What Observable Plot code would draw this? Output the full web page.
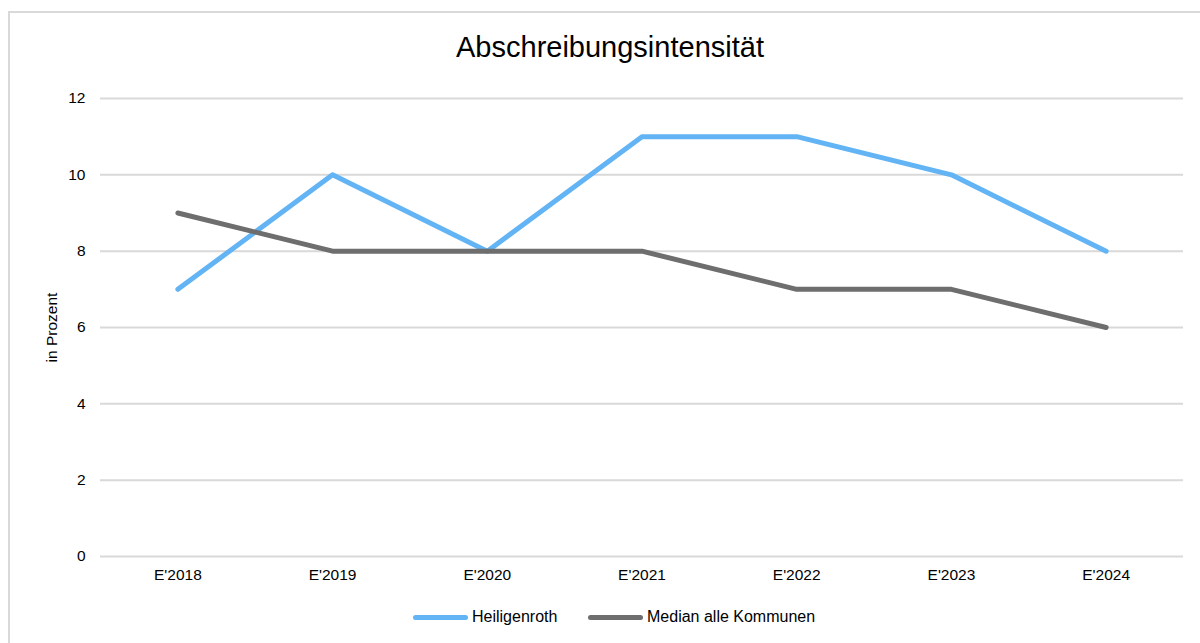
<!DOCTYPE html>
<html><head><meta charset="utf-8">
<script src="https://cdn.jsdelivr.net/npm/d3@7"></script>
<script src="https://cdn.jsdelivr.net/npm/@observablehq/plot@0.6"></script>
<style>
html,body{margin:0;padding:0;background:#fff;width:1200px;height:643px;overflow:hidden;font-family:"Liberation Sans",Arial,sans-serif;}
#frame{position:absolute;left:8px;top:11px;width:1200px;height:640px;border:2px solid #d9d9d9;box-sizing:border-box;}
#title{position:absolute;left:0;top:33px;width:1220px;text-align:center;font-size:29px;line-height:29px;color:#000;}
#chart{position:absolute;left:0;top:80px;}
#legend{position:absolute;top:607px;left:0;width:1200px;font-size:16px;color:#000;}
.item{position:absolute;top:0;display:flex;align-items:center;height:20px;}
.sw{width:55px;height:5px;border-radius:3px;margin-right:4px;}
</style></head>
<body>
<div id="frame"></div>
<div id="title">Abschreibungsintensität</div>
<div id="chart"></div>
<div id="legend"></div>
<script>
const years = ["E'2018","E'2019","E'2020","E'2021","E'2022","E'2023","E'2024"];
const heiligenroth = [7, 10, 8, 11, 11, 10, 8];
const median = [9, 8, 8, 8, 7, 7, 6];
const yTicks = [0, 2, 4, 6, 8, 10, 12];
const seriesNames = ["Heiligenroth", "Median alle Kommunen"];
const seriesColors = ["#63b4f5", "#6e6e6e"];

const data = [];
years.forEach((y, i) => data.push({year: y, value: heiligenroth[i], series: seriesNames[0]}));
years.forEach((y, i) => data.push({year: y, value: median[i], series: seriesNames[1]}));

const plot = Plot.plot({
  width: 1200, height: 520,
  marginLeft: 100, marginRight: 17, marginTop: 18, marginBottom: 44,
  style: {fontFamily: "'Liberation Sans', Arial, sans-serif", fontSize: "15.5px", color: "#000", background: "transparent"},
  x: {type: "point", domain: years, padding: 0.5, round: false, label: null},
  y: {domain: [0, 12], label: null},
  color: {domain: seriesNames, range: seriesColors},
  marks: [
    Plot.ruleY(yTicks, {stroke: "#d9d9d9", strokeWidth: 2}),
    Plot.axisY({ticks: yTicks, tickSize: 0, tickPadding: 15, label: null, fontSize: 15.5}),
    Plot.axisX({tickSize: 0, tickPadding: 12, label: null, fontSize: 15.5}),
    Plot.text(["in Prozent"], {frameAnchor: "left", textAnchor: "middle", dx: -48, rotate: -90, fontSize: 15.5}),
    Plot.line(data, {x: "year", y: "value", z: "series", stroke: "series", strokeWidth: 5, strokeLinecap: "round", strokeLinejoin: "round"})
  ]
});
document.getElementById("chart").appendChild(plot);

const legend = document.getElementById("legend");
const lefts = [413, 588];
seriesNames.forEach((n, i) => {
  const it = document.createElement("div");
  it.className = "item";
  it.style.left = lefts[i] + "px";
  const sw = document.createElement("div");
  sw.className = "sw";
  sw.style.background = seriesColors[i];
  const t = document.createElement("span");
  t.textContent = n;
  it.appendChild(sw); it.appendChild(t);
  legend.appendChild(it);
});
</script>
</body></html>
